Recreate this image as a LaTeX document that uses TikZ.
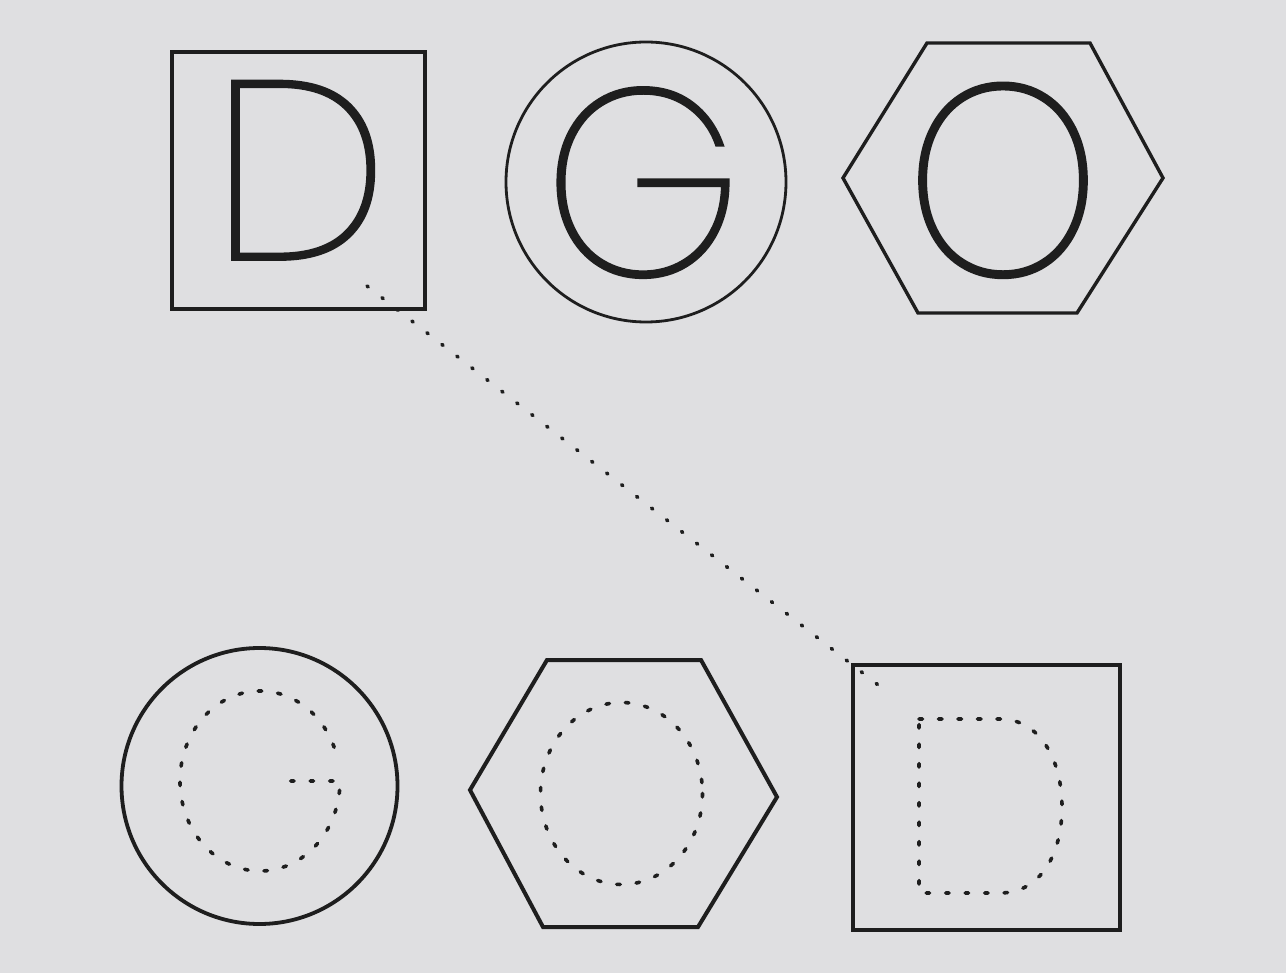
\documentclass[tikz,border=0pt]{standalone}
\usepackage{fontspec}
\IfFontExistsTF{Poppins Thin}{\newfontfamily\thinfont{Poppins Thin}[FakeBold=1.5]}{%
  \IfFontExistsTF{Poppins ExtraLight}{\newfontfamily\thinfont{Poppins ExtraLight}[FakeBold=0.8]}{%
    \newfontfamily\thinfont{Liberation Sans}}}
\definecolor{paper}{RGB}{223,223,225}
\definecolor{ink}{RGB}{30,30,30}
\begin{document}
\begin{tikzpicture}[x=1pt,y=-1pt,line join=miter,
  outline/.style={draw=ink,line width=3.4pt},
  dotline/.style={draw=ink,line width=3.6pt,line cap=round,dash pattern=on 3.5pt off 16pt},
  letter/.style={inner sep=0pt,outer sep=0pt,text=ink,anchor=base,
    font=\thinfont\fontsize{252}{252}\selectfont}]
\fill[paper] (0,0) rectangle (1286,973);
\useasboundingbox (0,0) rectangle (1286,973);

% top row
\draw[outline] (172,52) rectangle (425,309);
\node[letter] (letD) at (300,259) {D};

\draw[outline,line width=2.8pt] (646,182) circle[radius=140];
\node[letter] (letG) at (643,275) {\scalebox{1}[1.045]{G}};

\draw[outline] (927,43) -- (1090,43) -- (1163,178) -- (1077,313) -- (918,313) -- (843,178) -- cycle;
\node[letter] (letO) at (1003,275) {\scalebox{0.98}[1.07]{O}};

% bottom row
\draw[outline,line width=3.8pt] (259.5,786) circle[radius=138];
\draw[dotline] (260,781) ++(-22:80 and 90)
  arc[start angle=-22,end angle=-360,x radius=80,y radius=90] -- (278,781);

\draw[outline,line width=4pt] (547,660) -- (701,660) -- (777,797) -- (698,927) -- (543,927) -- (470,790) -- cycle;
\draw[dotline] (621.5,793.5) ellipse[x radius=81,y radius=91];

\draw[outline,line width=4.2pt] (853,665) rectangle (1120,930);
\draw[dotline] (919,719) -- (1000,719)
  .. controls (1040,719) and (1062,760) .. (1062,807)
  .. controls (1062,855) and (1040,893) .. (1000,893) -- (919,893) -- cycle;

% connector
\coordinate (cA) at (367,286);
\coordinate (cB) at (882,688);
\draw[dotline,dash pattern=on 1.5pt off 17.5pt] (cA) -- (cB);
\end{tikzpicture}
\end{document}
